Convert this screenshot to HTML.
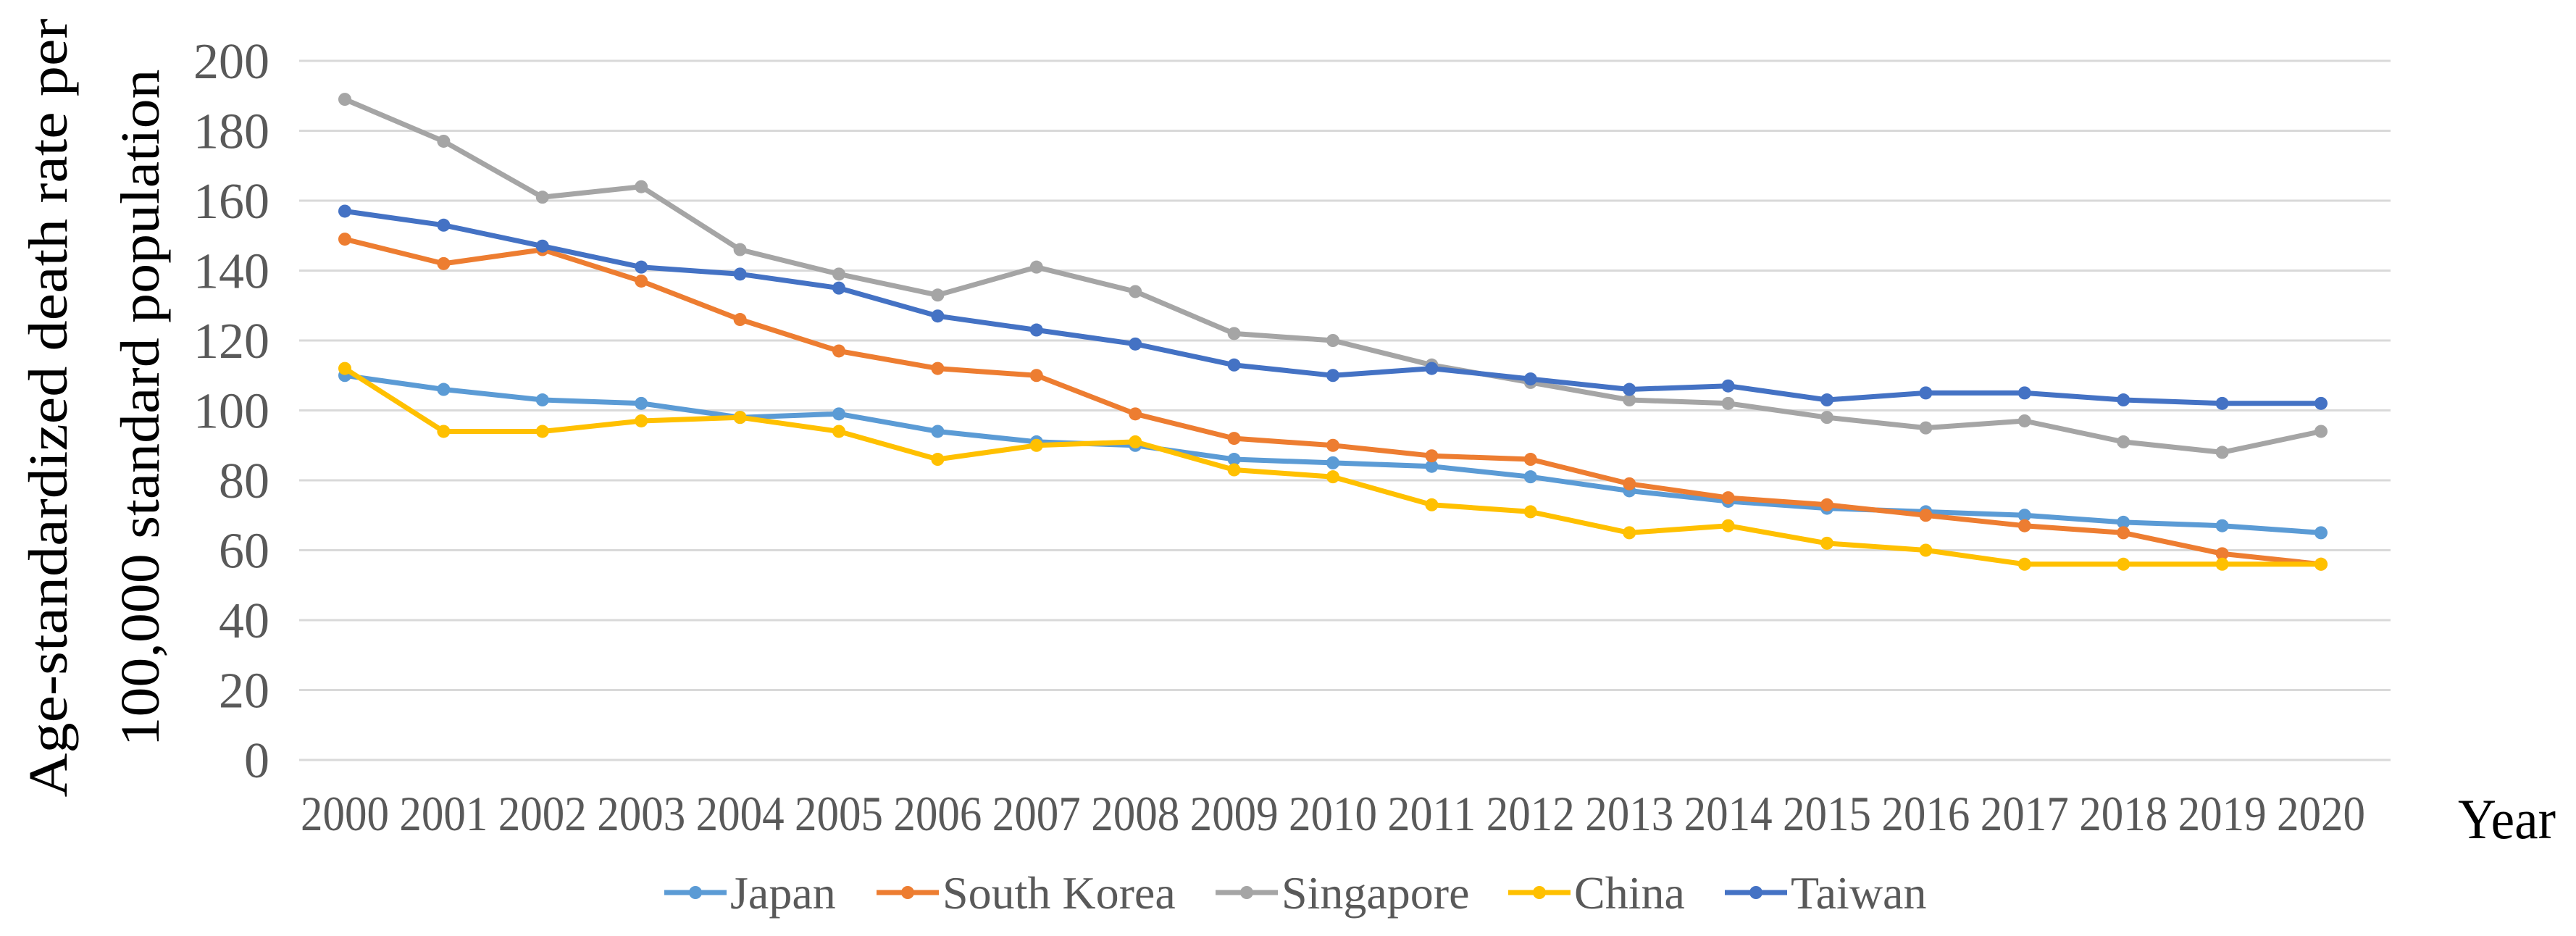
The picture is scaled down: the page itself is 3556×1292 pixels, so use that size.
<!DOCTYPE html>
<html><head><meta charset="utf-8">
<style>
html,body{margin:0;padding:0;background:#fff;}
svg{display:block;}
</style></head>
<body>
<svg id="chart" width="3556" height="1292" viewBox="0 0 3556 1292" xmlns="http://www.w3.org/2000/svg" font-family="'Liberation Serif', serif">
  <g id="grid"></g>
  <g id="yticks"></g>
  <g id="xticks"></g>
  <g id="series"></g>
  <g fill="#000" font-size="76">
    <text transform="translate(92,563) rotate(-90)" text-anchor="middle" textLength="1075" lengthAdjust="spacingAndGlyphs">Age-standardized death rate per</text>
    <text transform="translate(219,563) rotate(-90)" text-anchor="middle" textLength="935" lengthAdjust="spacingAndGlyphs">100,000 standard population</text>
  </g>
  <text x="3393" y="1157" font-size="78" fill="#000" textLength="135" lengthAdjust="spacingAndGlyphs">Year</text>
  <g id="legend"></g>
</svg>
<script>
const years = ["2000","2001","2002","2003","2004","2005","2006","2007","2008","2009","2010","2011","2012","2013","2014","2015","2016","2017","2018","2019","2020"];
const yTicks = [0,20,40,60,80,100,120,140,160,180,200];
const seriesNames = ["Japan","South Korea","Singapore","China","Taiwan"];
const japan = [110,106,103,102,98,99,94,91,90,86,85,84,81,77,74,72,71,70,68,67,65];
const southKorea = [149,142,146,137,126,117,112,110,99,92,90,87,86,79,75,73,70,67,65,59,56];
const singapore = [189,177,161,164,146,139,133,141,134,122,120,113,108,103,102,98,95,97,91,88,94];
const china = [112,94,94,97,98,94,86,90,91,83,81,73,71,65,67,62,60,56,56,56,56];
const taiwan = [157,153,147,141,139,135,127,123,119,113,110,112,109,106,107,103,105,105,103,102,102];

const NS = "http://www.w3.org/2000/svg";
const gridL = 413, gridR = 3300, x0px = 476, xStep = 136.4, y0px = 1049, y200px = 84;
function xPos(i){ return x0px + xStep * i; }
function yPos(v){ return y0px - (v / 200) * (y0px - y200px); }
function mk(tag, attrs, parent){
  const e = document.createElementNS(NS, tag);
  for (const k in attrs) e.setAttribute(k, attrs[k]);
  parent.appendChild(e); return e;
}
const grid = document.getElementById('grid');
const yt = document.getElementById('yticks');
yTicks.forEach(v => {
  const l = mk('line', {x1: gridL, x2: gridR, y1: yPos(v), y2: yPos(v), stroke: '#d9d9d9', 'stroke-width': 3}, grid);
  
  
  const t = mk('text', {x: 372, y: yPos(v) + 24, 'text-anchor': 'end', 'font-size': 70, fill: '#595959'}, yt);
  t.textContent = String(v);
  
  
});
const xt = document.getElementById('xticks');
years.forEach((yr, i) => {
  const t = mk('text', {x: xPos(i), y: 1146, 'text-anchor': 'middle', 'font-size': 68, fill: '#595959', textLength: 122, lengthAdjust: 'spacingAndGlyphs'}, xt);
  t.textContent = yr;
  
  
});
const allData = [japan, southKorea, singapore, china, taiwan];
const colors = ["#5B9BD5","#ED7D31","#A5A5A5","#FFC000","#4472C4"];
const sg = document.getElementById('series');
allData.forEach((d, s) => {
  const g = mk('g', {}, sg);
  
  
  const pts = d.map((v, i) => xPos(i).toFixed(1) + ',' + yPos(v).toFixed(1)).join(' ');
  const pl = mk('polyline', {points: pts, fill: 'none', stroke: colors[s], 'stroke-width': 7, 'stroke-linejoin': 'round', 'stroke-linecap': 'round'}, g);
  
  
  d.forEach((v, i) => {
    const c = mk('circle', {cx: xPos(i), cy: yPos(v), r: 9, fill: colors[s]}, g);
    
    
  });
});
const lg = document.getElementById('legend');
const legX = [917, 1210, 1678, 2082, 2381];
seriesNames.forEach((n, s) => {
  const g = mk('g', {}, lg);
  
  
  const x = legX[s];
  mk('line', {x1: x, x2: x + 86, y1: 1232, y2: 1232, stroke: colors[s], 'stroke-width': 7}, g);
  mk('circle', {cx: x + 43, cy: 1232, r: 9, fill: colors[s]}, g);
  const t = mk('text', {x: x + 91, y: 1254, 'font-size': 64, fill: '#595959'}, g);
  t.textContent = n;
});
</script>
</body></html>
